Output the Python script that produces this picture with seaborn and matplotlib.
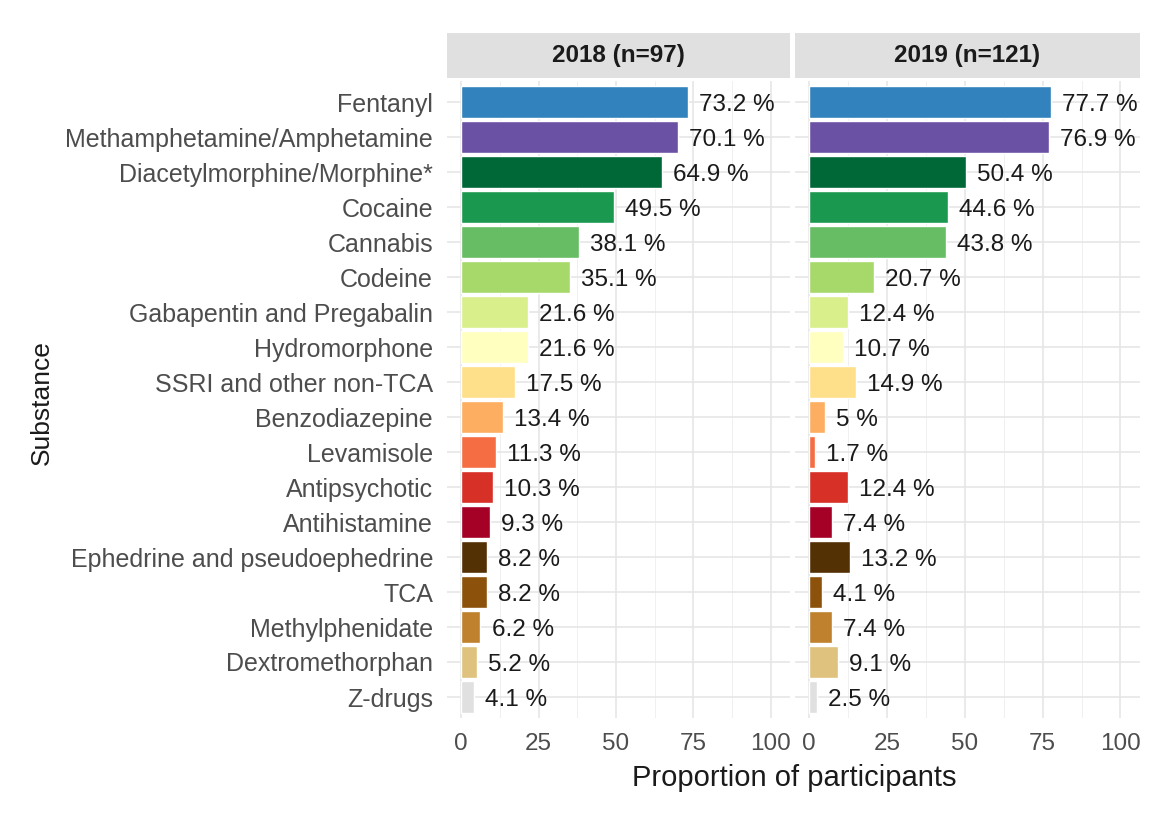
import matplotlib
matplotlib.use("Agg")
import matplotlib.pyplot as plt
import seaborn as sns
import numpy as np

substances = ["Fentanyl", "Methamphetamine/Amphetamine", "Diacetylmorphine/Morphine*",
              "Cocaine", "Cannabis", "Codeine", "Gabapentin and Pregabalin",
              "Hydromorphone", "SSRI and other non-TCA", "Benzodiazepine", "Levamisole",
              "Antipsychotic", "Antihistamine", "Ephedrine and pseudoephedrine", "TCA",
              "Methylphenidate", "Dextromethorphan", "Z-drugs"]
vals_2018 = [73.2, 70.1, 64.9, 49.5, 38.1, 35.1, 21.6, 21.6, 17.5, 13.4, 11.3, 10.3,
             9.3, 8.2, 8.2, 6.2, 5.2, 4.1]
vals_2019 = [77.7, 76.9, 50.4, 44.6, 43.8, 20.7, 12.4, 10.7, 14.9, 5, 1.7, 12.4,
             7.4, 13.2, 4.1, 7.4, 9.1, 2.5]
panel_titles = ["2018 (n=97)", "2019 (n=121)"]
colors = ["#3182bd", "#6a51a3", "#006837", "#1a9850", "#66bd63", "#a6d96a", "#d9ef8b",
          "#ffffbf", "#fee08b", "#fdae61", "#f46d43", "#d73027", "#a50026", "#543005",
          "#8c510a", "#bf812d", "#dfc27d", "#e0e0e0"]
x_ticks = [0, 25, 50, 75, 100]

sns.set_theme(style="white")
plt.rcParams['font.family'] = ['Liberation Sans', 'DejaVu Sans']

fig = plt.figure(figsize=(11.53, 8.17), dpi=100)
W, H = 1153, 817
panels = [(447, 790), (795, 1140)]
top_px, bot_px = 81, 718
palette = dict(zip(substances, colors))

for i, (vals, title) in enumerate(zip([vals_2018, vals_2019], panel_titles)):
    l, r = panels[i]
    ax = fig.add_axes([l / W, 1 - bot_px / H, (r - l) / W, (bot_px - top_px) / H])
    # grid
    for xv in x_ticks:
        ax.axvline(xv, color="#e6e6e6", lw=1.2, zorder=0)
    for xv in [12.5, 37.5, 62.5, 87.5]:
        ax.axvline(xv, color="#f0f0f0", lw=0.7, zorder=0)
    for yv in range(len(substances)):
        ax.axhline(yv, color="#e6e6e6", lw=1.2, zorder=0)
    sns.barplot(x=vals, y=substances, hue=substances, palette=palette, ax=ax,
                legend=False, width=0.9, orient="h", saturation=1, zorder=2)
    for yv, v in enumerate(vals):
        ax.annotate(f"{v:g} %", xy=(v, yv), xytext=(8, -2.5), textcoords="offset points",
                    ha="left", va="center", fontsize=17.5, color="#1a1a1a")
    ax.set_xlim(-4.6, 106.3)
    ax.set_ylim(len(substances) - 1 + 0.6, -0.6)
    ax.set_xticks(x_ticks)
    ax.set_xticklabels([str(t) for t in x_ticks])
    ax.tick_params(axis="x", labelsize=17.5, labelcolor="#4d4d4d", length=0, pad=11)
    ax.tick_params(axis="y", labelsize=18, labelcolor="#4d4d4d", length=0, pad=10)
    if i == 1:
        ax.set_yticklabels([])
    for s in ax.spines.values():
        s.set_visible(False)
    ax.set_xlabel("")
    ax.set_ylabel("")
    # strip
    sax = fig.add_axes([l / W, 1 - 78 / H, (r - l) / W, (78 - 33) / H])
    sax.set_facecolor("#e0e0e0")
    sax.set_xticks([]); sax.set_yticks([])
    for s in sax.spines.values():
        s.set_visible(False)
    sax.text(0.5, 0.5, title, ha="center", va="center", fontsize=17.5,
             fontweight="bold", color="#1a1a1a", transform=sax.transAxes)

fig.text(794 / W, 1 - 778 / H, "Proportion of participants", ha="center", va="center",
         fontsize=21, color="#1a1a1a")
fig.text(42 / W, 1 - 403 / H, "Substance", ha="center", va="center", rotation=90,
         fontsize=19, color="#1a1a1a")

fig.savefig("out.png", dpi=100)
